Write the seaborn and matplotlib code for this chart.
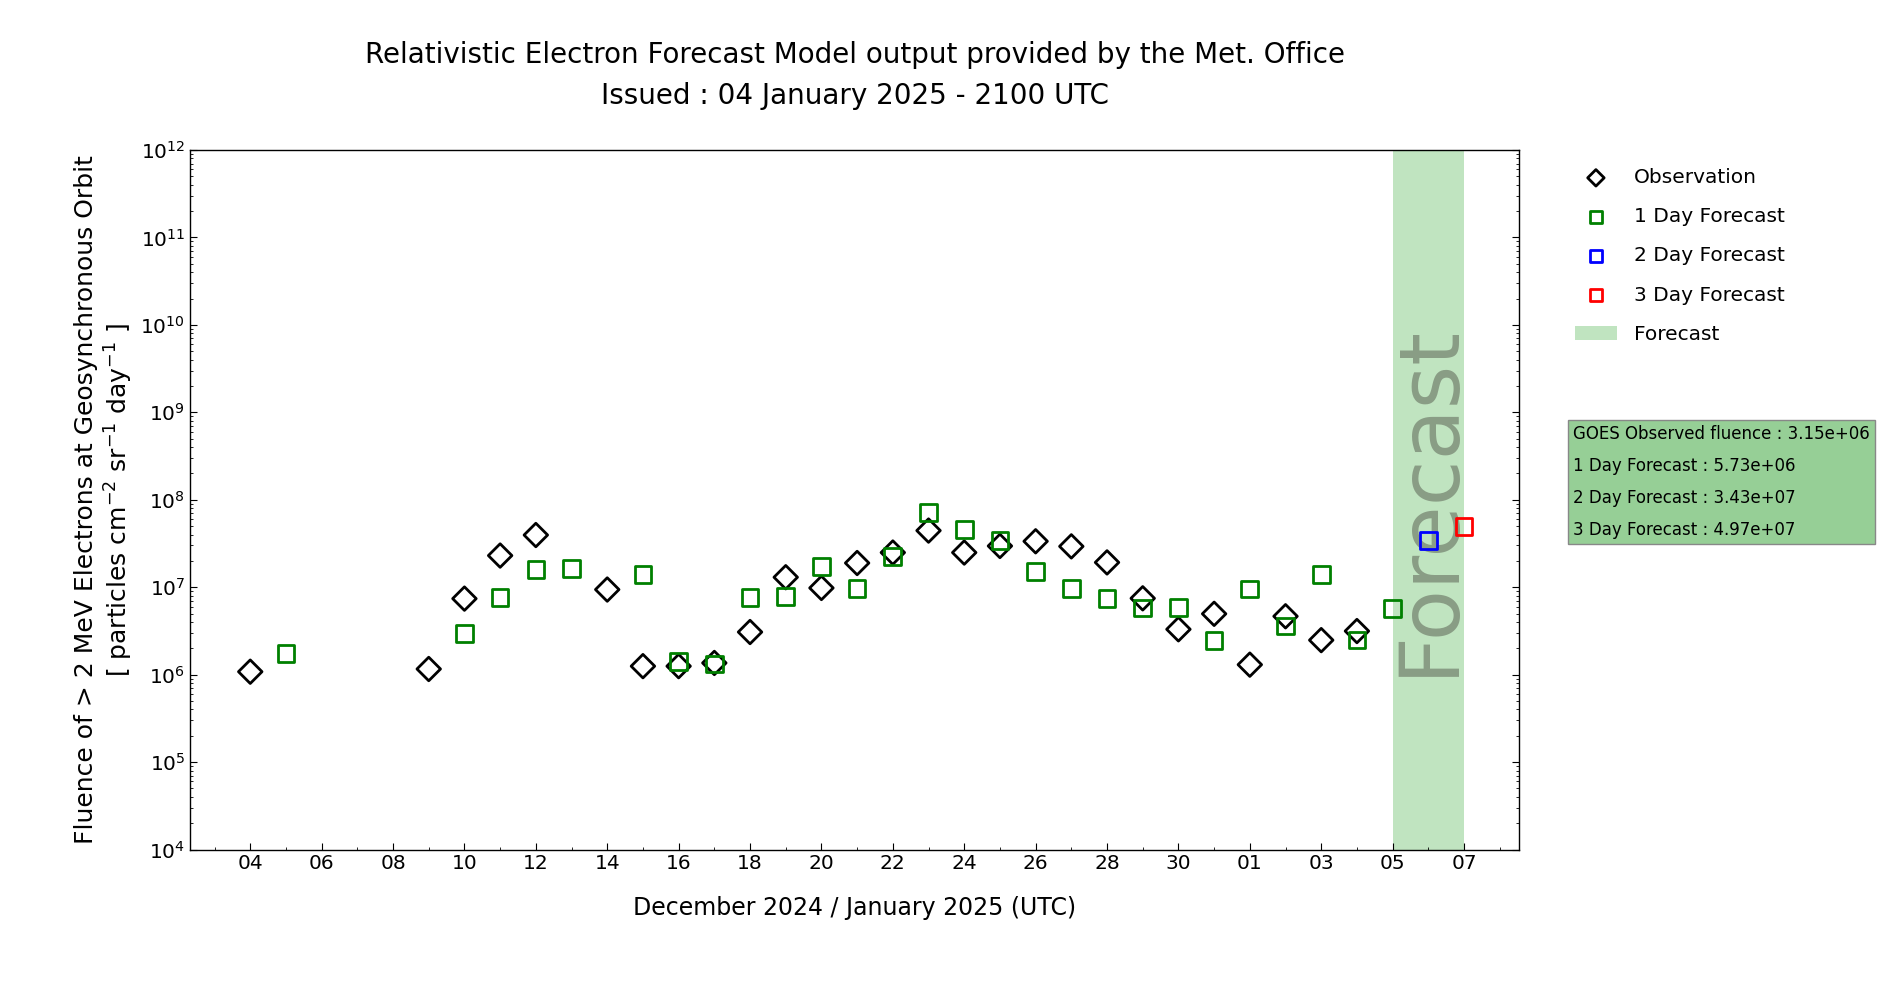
import pandas as pd
import matplotlib
matplotlib.use('Agg')
import matplotlib.pyplot as plt
import matplotlib.dates as mdates
from matplotlib.ticker import LogLocator
from matplotlib.patches import Patch
import seaborn as sns

# 观测值
obs_dates = ['2024-12-04', '2024-12-09', '2024-12-10', '2024-12-11',
             '2024-12-12', '2024-12-14', '2024-12-15', '2024-12-16',
             '2024-12-17', '2024-12-18', '2024-12-19', '2024-12-20',
             '2024-12-21', '2024-12-22', '2024-12-23', '2024-12-24',
             '2024-12-25', '2024-12-26', '2024-12-27', '2024-12-28',
             '2024-12-29', '2024-12-30', '2024-12-31', '2025-01-01',
             '2025-01-02', '2025-01-03', '2025-01-04']
obs_values = [1.08e6, 1.16e6, 7.4e6, 2.3e7,
              3.95e7, 9.4e6, 1.25e6, 1.25e6,
              1.36e6, 3.07e6, 1.3e7, 9.8e6,
              1.89e7, 2.49e7, 4.44e7, 2.49e7,
              2.96e7, 3.35e7, 2.93e7, 1.92e7,
              7.46e6, 3.3e6, 4.96e6, 1.3e6,
              4.65e6, 2.48e6, 3.15e6]

# 1天预报
fc1_dates = ['2024-12-05', '2024-12-10', '2024-12-11', '2024-12-12',
             '2024-12-13', '2024-12-15', '2024-12-16', '2024-12-17',
             '2024-12-18', '2024-12-19', '2024-12-20', '2024-12-21',
             '2024-12-22', '2024-12-23', '2024-12-24', '2024-12-25',
             '2024-12-26', '2024-12-27', '2024-12-28', '2024-12-29',
             '2024-12-30', '2024-12-31', '2025-01-01', '2025-01-02',
             '2025-01-03', '2025-01-04', '2025-01-05']
fc1_values = [1.75e6, 2.96e6, 7.6e6, 1.6e7,
              1.64e7, 1.39e7, 1.42e6, 1.32e6,
              7.65e6, 7.8e6, 1.73e7, 9.7e6,
              2.25e7, 7.1e7, 4.6e7, 3.4e7,
              1.5e7, 9.7e6, 7.46e6, 5.76e6,
              5.9e6, 2.44e6, 9.5e6, 3.6e6,
              1.4e7, 2.48e6, 5.73e6]

# 2天、3天预报
fc2_dates = ['2025-01-06']
fc2_values = [3.43e7]
fc3_dates = ['2025-01-07']
fc3_values = [4.97e7]

forecast_span = ['2025-01-05', '2025-01-07']
x_limits = ['2024-12-02 07:30', '2025-01-08 13:15']
tick_first, tick_last = '2024-12-04', '2025-01-07'

summary_lines = ['GOES Observed fluence : 3.15e+06',
                 '1 Day Forecast : 5.73e+06',
                 '2 Day Forecast : 3.43e+07',
                 '3 Day Forecast : 4.97e+07']

# 绘图风格
sns.set_style('ticks', {'axes.edgecolor': 'black', 'xtick.color': 'black', 'ytick.color': 'black',
                        'text.color': 'black', 'axes.labelcolor': 'black',
                        'xtick.direction': 'in', 'ytick.direction': 'in'})
plt.rcParams['font.family'] = ['DejaVu Sans']

fig, ax = plt.subplots(figsize=(19, 10), dpi=100)
fig.subplots_adjust(left=0.1, right=0.7997, top=0.85, bottom=0.1505)

# 预报区间
span = pd.to_datetime(forecast_span)
ax.axvspan(span[0], span[1], color='#c0e4c0', lw=0, zorder=0)
ax.text(span[0] + (span[1] - span[0]) / 2, 1e8, 'Forecast', rotation=90, fontsize=60,
        color='#899d85', ha='center', va='center', zorder=1)

sns.scatterplot(x=pd.to_datetime(obs_dates), y=obs_values, marker='D', s=144,
                facecolor='none', edgecolor='black', linewidth=2.0, ax=ax, zorder=3)
sns.scatterplot(x=pd.to_datetime(fc1_dates), y=fc1_values, marker='s', s=144,
                facecolor='none', edgecolor='green', linewidth=2.0, ax=ax, zorder=4)
sns.scatterplot(x=pd.to_datetime(fc2_dates), y=fc2_values, marker='s', s=144,
                facecolor='none', edgecolor='blue', linewidth=2.0, ax=ax, zorder=4)
sns.scatterplot(x=pd.to_datetime(fc3_dates), y=fc3_values, marker='s', s=144,
                facecolor='none', edgecolor='red', linewidth=2.0, ax=ax, zorder=4)

# 坐标轴
ax.set_yscale('log')
ax.set_ylim(1e4, 1e12)
ax.yaxis.set_major_locator(LogLocator(base=10, numticks=20))
ax.yaxis.set_minor_locator(LogLocator(base=10, subs=range(2, 10), numticks=20))
ax.set_xlim(pd.to_datetime(x_limits))
ax.set_xticks(pd.date_range(tick_first, tick_last, freq='2D'))
ax.xaxis.set_major_formatter(mdates.DateFormatter('%d'))
ax.xaxis.set_minor_locator(mdates.DayLocator())
ax.tick_params(which='both', direction='in', right=True, top=False, labelsize=14.5)
ax.tick_params(which='major', length=5)
ax.tick_params(which='minor', length=2.5)
for s in ax.spines.values():
    s.set_linewidth(1.0)

ax.set_xlabel('December 2024 / January 2025 (UTC)', fontsize=17, labelpad=16.5)
ax.set_ylabel('Fluence of > 2 MeV Electrons at Geosynchronous Orbit\n'
              '[ particles cm$^{-2}$ sr$^{-1}$ day$^{-1}$ ]', fontsize=18, labelpad=4)
ax.set_title('Relativistic Electron Forecast Model output provided by the Met. Office\n'
             'Issued : 04 January 2025 - 2100 UTC', fontsize=20, pad=33, linespacing=1.6)

# 图例
handles = ax.collections[:4] + [Patch(facecolor='#c0e4c0', edgecolor='none')]
labels = ['Observation', '1 Day Forecast', '2 Day Forecast', '3 Day Forecast', 'Forecast']
ax.legend(handles, labels, loc='upper left', bbox_to_anchor=(1.028, 1.0), frameon=False,
          fontsize=14.5, labelspacing=1.0, markerscale=0.7, handlelength=2.1,
          handletextpad=0.85)

# 数值文本框
fig.text(0.828, 0.575, '\n'.join(summary_lines), fontsize=12, va='top', ha='left',
         linespacing=2.0,
         bbox=dict(boxstyle='square,pad=0.3', facecolor='#96cf96', edgecolor='#888888'))

plt.savefig('out.png', dpi=100)
